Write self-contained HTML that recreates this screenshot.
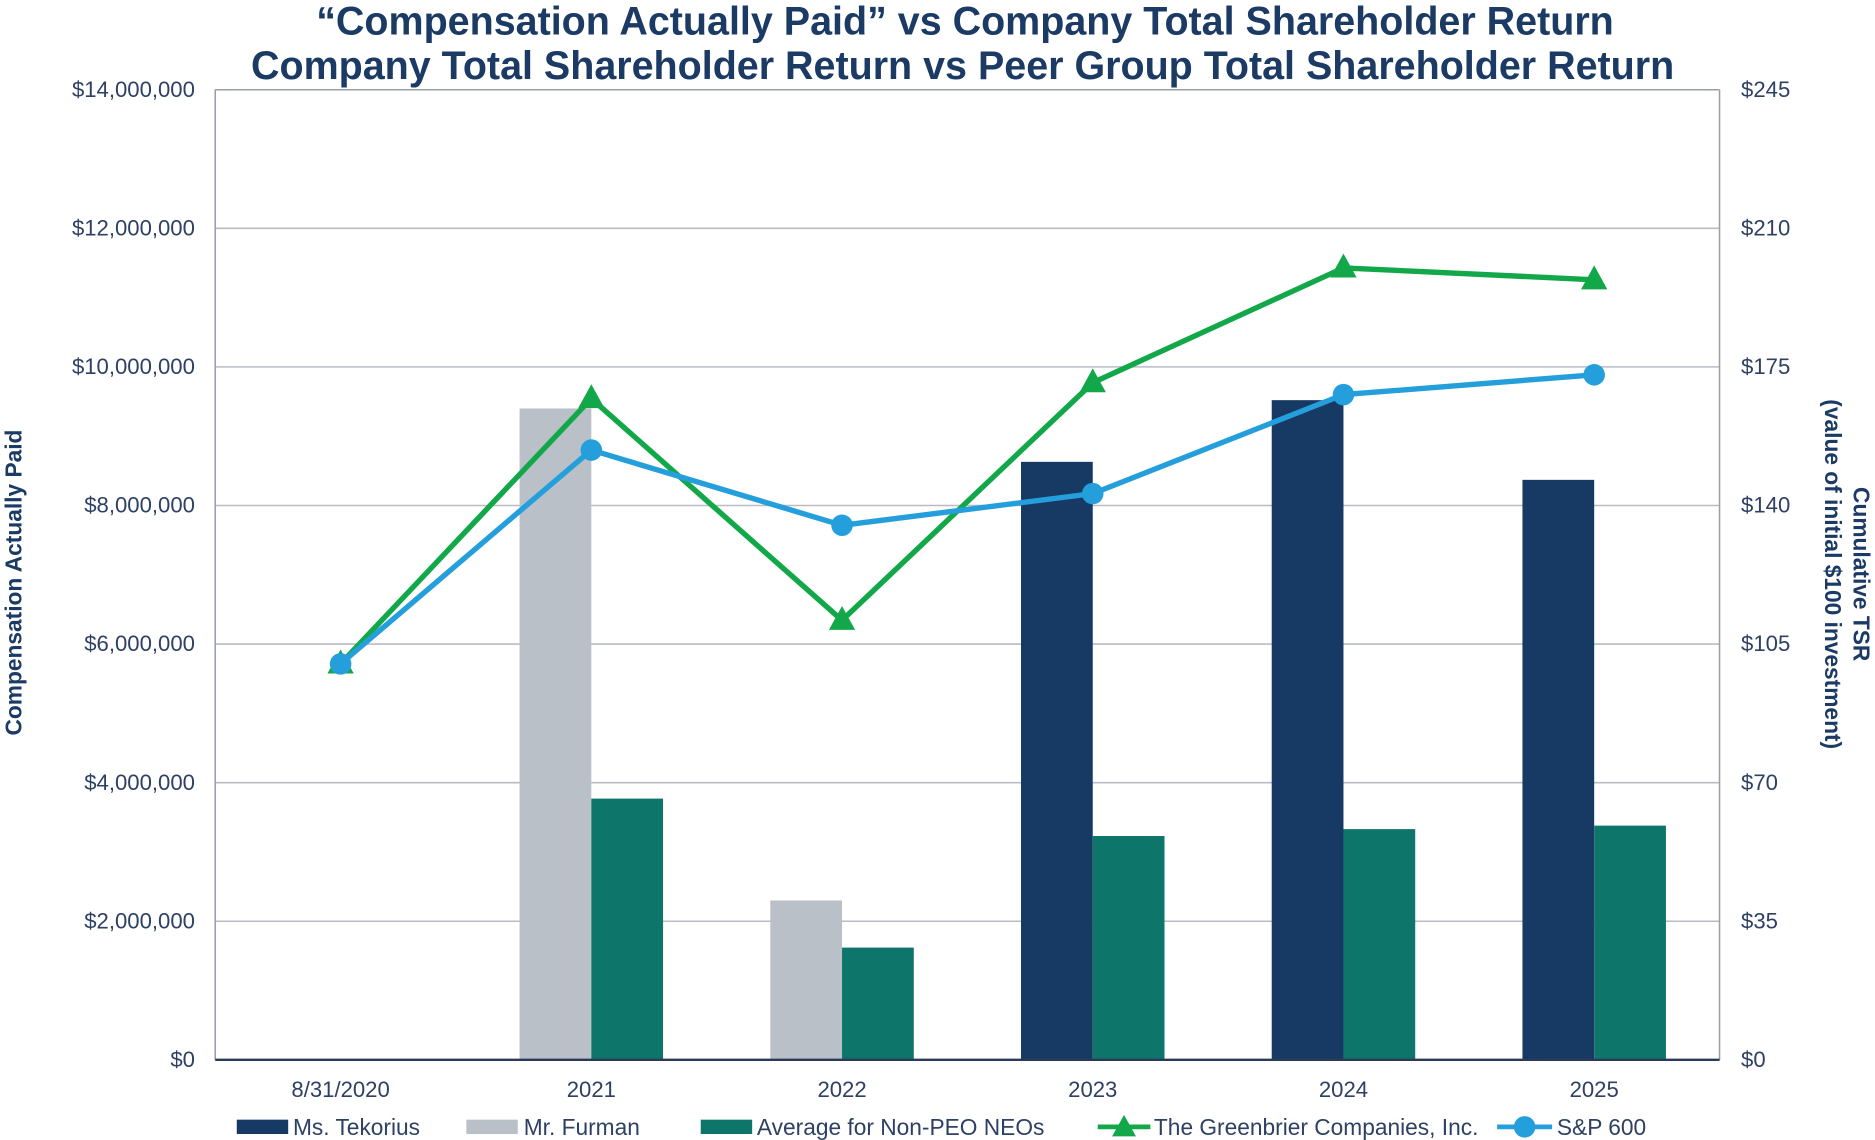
<!DOCTYPE html>
<html><head><meta charset="utf-8">
<style>
html,body{margin:0;padding:0;background:#fff;}
svg{display:block;font-family:"Liberation Sans",Arial,sans-serif;}
</style></head>
<body>
<svg id="chart" width="1875" height="1140" viewBox="0 0 1568 953" preserveAspectRatio="none" xmlns="http://www.w3.org/2000/svg">
<g fill="#1b3a64" font-weight="bold" font-size="33" text-anchor="middle">
<text x="807" y="29">“Compensation Actually Paid” vs Company Total Shareholder Return</text>
<text x="805" y="66">Company Total Shareholder Return vs Peer Group Total Shareholder Return</text>
</g>
<g id="grid"></g>
<g id="bars"></g>
<g id="lines"></g>
<g id="axes"></g>
<text transform="translate(18,487) rotate(-90)" text-anchor="middle" font-size="19" font-weight="bold" fill="#1b3a64">Compensation Actually Paid</text>
<g font-size="19" font-weight="bold" fill="#1b3a64" text-anchor="middle">
<text transform="translate(1550,480) rotate(90)">Cumulative TSR</text>
<text transform="translate(1526,480) rotate(90)">(value of initial $100 investment)</text>
</g>
<g id="legend" font-size="19" fill="#2e4063">
<g><rect x="198" y="936" width="43" height="12" fill="#173a64"/><text x="245" y="949">Ms. Tekorius</text></g>
<g><rect x="390" y="936" width="43" height="12" fill="#bac0c8"/><text x="438" y="949">Mr. Furman</text></g>
<g><rect x="586" y="936" width="43" height="12" fill="#0d756a"/><text x="633" y="949">Average for Non-PEO NEOs</text></g>
<g><line x1="918" y1="942" x2="962" y2="942" stroke="#12a84a" stroke-width="4"/><polygon points="940,932 950,950 930,950" fill="#12a84a"/><text x="965" y="949">The Greenbrier Companies, Inc.</text></g>
<g><line x1="1252" y1="942" x2="1298" y2="942" stroke="#249fdc" stroke-width="4"/><circle cx="1275" cy="942" r="9" fill="#249fdc"/><text x="1302" y="949">S&amp;P 600</text></g>
</g>
<script>
const categories=["8/31/2020","2021","2022","2023","2024","2025"];
const tekorius=[null,null,null,8630000,9520000,8370000];
const furman=[null,9400000,2300000,null,null,null];
const nonPeo=[null,3770000,1620000,3230000,3330000,3380000];
const greenbrier=[100,167,111,171,200,197];
const sp600=[100,154,135,143,168,173];
const leftTicks=[0,2000000,4000000,6000000,8000000,10000000,12000000,14000000];
const rightTicks=[0,35,70,105,140,175,210,245];

const NS="http://www.w3.org/2000/svg";
const L=180,R=1438,T=75,B=886;
const bw=(R-L)/categories.length;
const yL=v=>B-v/14000000*(B-T);
const yR=v=>B-v/245*(B-T);
const xC=i=>L+bw*(i+0.5);
function mk(tag,attrs,parent){const e=document.createElementNS(NS,tag);for(const k in attrs)e.setAttribute(k,attrs[k]);parent.appendChild(e);return e;}
const grid=document.getElementById('grid'),bars=document.getElementById('bars'),lines=document.getElementById('lines'),axes=document.getElementById('axes');
leftTicks.forEach((v,i)=>{
  const g=mk('line',{x1:L,x2:R,y1:yL(v),y2:yL(v),stroke:'#b9bcc6','stroke-width':1.3},grid);
  
  
  const t=mk('text',{x:163,y:yL(v)+6,'text-anchor':'end','font-size':18.5,fill:'#2e4063'},axes);
  t.textContent='$'+v.toLocaleString('en-US');
  
  
});
rightTicks.forEach(v=>{
  const t=mk('text',{x:1456,y:yR(v)+6,'font-size':18.5,fill:'#2e4063'},axes);
  t.textContent='$'+v;
  
  
});
categories.forEach((c,i)=>{
  const t=mk('text',{x:xC(i),y:917,'text-anchor':'middle','font-size':18.5,fill:'#2e4063'},axes);
  t.textContent=c;
  
  
});
const w=60;
function bar(v,i,off,col,name){
  if(v==null)return;
  const r=mk('rect',{x:xC(i)+off,y:yL(v),width:w,height:B-yL(v),fill:col},bars);
  
  
}
categories.forEach((c,i)=>{
  bar(tekorius[i],i,-w,'#173a64','bar-tekorius');
  bar(furman[i],i,-w,'#bac0c8','bar-furman');
  bar(nonPeo[i],i,0,'#0d756a','bar-non-peo');
});
mk('line',{x1:L,y1:T,x2:L,y2:B,stroke:'#9a9ea8','stroke-width':1.3},axes);
mk('line',{x1:R,y1:T,x2:R,y2:B,stroke:'#9a9ea8','stroke-width':1.3},axes);
mk('line',{x1:L,y1:T,x2:R,y2:T,stroke:'#9a9ea8','stroke-width':1.3},axes);
mk('line',{x1:L,y1:B,x2:R,y2:B,stroke:'#2b3a5a','stroke-width':2},axes);
function series(data,col,name,marker){
  const p=mk('polyline',{points:data.map((v,i)=>xC(i)+','+yR(v)).join(' '),fill:'none',stroke:col,'stroke-width':4.5,'stroke-linejoin':'round'},lines);
  
  
  data.forEach((v,i)=>{
    let m;
    if(marker==='tri'){const x=xC(i),y=yR(v);m=mk('polygon',{points:`${x},${y-12} ${x+11},${y+8} ${x-11},${y+8}`,fill:col},lines);}
    else m=mk('circle',{cx:xC(i),cy:yR(v),r:9,fill:col},lines);
    
    
  });
}
series(greenbrier,'#12a84a','greenbrier','tri');
series(sp600,'#249fdc','sp600','circ');
</script>
</svg>
</body></html>
